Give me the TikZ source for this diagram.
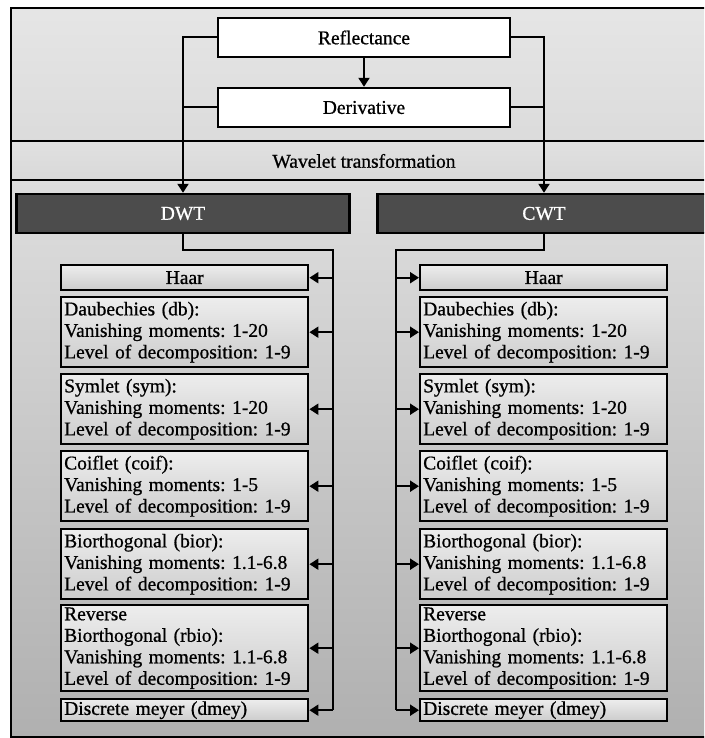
\documentclass[tikz,border=0pt]{standalone}
\usepackage{fontspec}
\setmainfont{Liberation Serif}
\newfontfamily\wfam[FakeBold=0.8]{Liberation Serif}
\usetikzlibrary{arrows.meta,positioning}
\newcommand{\wfont}{\wfam\fontsize{19.5}{21.5}\selectfont\frenchspacing}
\tikzset{
  wbox/.style={draw,line width=2.4pt,fill=white,minimum width=292pt,minimum height=39pt,inner sep=0pt,font=\wfont},
  hdr/.style={draw,line width=2.4pt,fill=black!70,text=white,minimum width=333pt,minimum height=39pt,inner sep=0pt,font=\wfont},
  item/.style={draw,line width=2.4pt,top color=black!7,bottom color=black!20,text width=241pt,inner xsep=3pt,inner ysep=0pt,align=left,anchor=north west,font=\wfont},
  link/.style={line width=2pt},
  feed/.style={line width=2pt,-{Triangle[length=9pt,width=11pt]}}
}
\begin{document}
\begin{tikzpicture}[x=1pt,y=1pt]
            \useasboundingbox (0,0) rectangle (704,-738);
            \clip (0,0) rectangle (704,-738);

            \shade[top color=black!10,bottom color=black!14] (11,-8) rectangle (716,-141);
            \shade[top color=black!12,bottom color=black!15] (11,-141) rectangle (716,-180);
            \shade[top color=black!13,bottom color=black!31] (11,-180) rectangle (716,-737);
            \draw[line width=2pt] (11,-8) rectangle (716,-737);
            \draw[line width=2pt] (11,-141) -- (716,-141);
            \draw[line width=2pt] (11,-180) -- (716,-180);

            \node[wbox] (refl) at (364,-37.5) {Reflectance};
            \node[wbox] (deriv) at (364,-107.5) {Derivative};
            \node[font=\wfont] (wave) at (364,-161) {Wavelet transformation};
            \node[hdr] (dwt) at (183,-213.5) {DWT};
            \node[hdr] (cwt) at (544,-213.5) {CWT};

            \draw[feed] (refl) -- (deriv);
            \draw[feed] (refl.west) -| (dwt.north);
            \draw[feed] (refl.east) -| (cwt.north);
            \draw[link] (deriv.west) -- (deriv.west -| dwt.north);
            \draw[link] (deriv.east) -- (deriv.east -| cwt.north);

            \node[item,align=center,minimum height=25pt] (haarL) at (60,-264) {Haar};
            \node[item,minimum height=70pt] (dbL) at (60,-296) {Daubechies (db):\\Vanishing moments: 1-20\\Level of decomposition: 1-9};
            \node[item,minimum height=70pt] (symL) at (60,-373) {Symlet (sym):\\Vanishing moments: 1-20\\Level of decomposition: 1-9};
            \node[item,minimum height=70pt] (coifL) at (60,-450) {Coiflet (coif):\\Vanishing moments: 1-5\\Level of decomposition: 1-9};
            \node[item,minimum height=70pt] (biorL) at (60,-528) {Biorthogonal (bior):\\Vanishing moments: 1.1-6.8\\Level of decomposition: 1-9};
            \node[item,minimum height=86pt] (rbioL) at (60,-604) {Reverse\\Biorthogonal (rbio):\\Vanishing moments: 1.1-6.8\\Level of decomposition: 1-9};
            \node[item,minimum height=22pt] (dmeyL) at (60,-698) {Discrete meyer (dmey)};

            \node[item,align=center,minimum height=25pt] (haarR) at (419,-264) {Haar};
            \node[item,minimum height=70pt] (dbR) at (419,-296) {Daubechies (db):\\Vanishing moments: 1-20\\Level of decomposition: 1-9};
            \node[item,minimum height=70pt] (symR) at (419,-373) {Symlet (sym):\\Vanishing moments: 1-20\\Level of decomposition: 1-9};
            \node[item,minimum height=70pt] (coifR) at (419,-450) {Coiflet (coif):\\Vanishing moments: 1-5\\Level of decomposition: 1-9};
            \node[item,minimum height=70pt] (biorR) at (419,-528) {Biorthogonal (bior):\\Vanishing moments: 1.1-6.8\\Level of decomposition: 1-9};
            \node[item,minimum height=86pt] (rbioR) at (419,-604) {Reverse\\Biorthogonal (rbio):\\Vanishing moments: 1.1-6.8\\Level of decomposition: 1-9};
            \node[item,minimum height=22pt] (dmeyR) at (419,-698) {Discrete meyer (dmey)};

            \coordinate (lbus) at (333,-250);
            \coordinate (rbus) at (396,-250);
            \draw[link] (dwt.south) |- (lbus) -- (lbus |- dmeyL.east);
            \draw[link] (cwt.south) |- (rbus) -- (rbus |- dmeyR.east);

            \draw[feed] (lbus |- haarL.east) -- (haarL.east);
            \draw[feed] (lbus |- dbL.east) -- (dbL.east);
            \draw[feed] (lbus |- symL.east) -- (symL.east);
            \draw[feed] (lbus |- coifL.east) -- (coifL.east);
            \draw[feed] (lbus |- biorL.east) -- (biorL.east);
            \draw[feed] (lbus |- rbioL.east) -- (rbioL.east);
            \draw[feed] (lbus |- dmeyL.east) -- (dmeyL.east);

            \draw[feed] (rbus |- haarR.west) -- (haarR.west);
            \draw[feed] (rbus |- dbR.west) -- (dbR.west);
            \draw[feed] (rbus |- symR.west) -- (symR.west);
            \draw[feed] (rbus |- coifR.west) -- (coifR.west);
            \draw[feed] (rbus |- biorR.west) -- (biorR.west);
            \draw[feed] (rbus |- rbioR.west) -- (rbioR.west);
            \draw[feed] (rbus |- dmeyR.west) -- (dmeyR.west);
        \end{tikzpicture}
\end{document}
